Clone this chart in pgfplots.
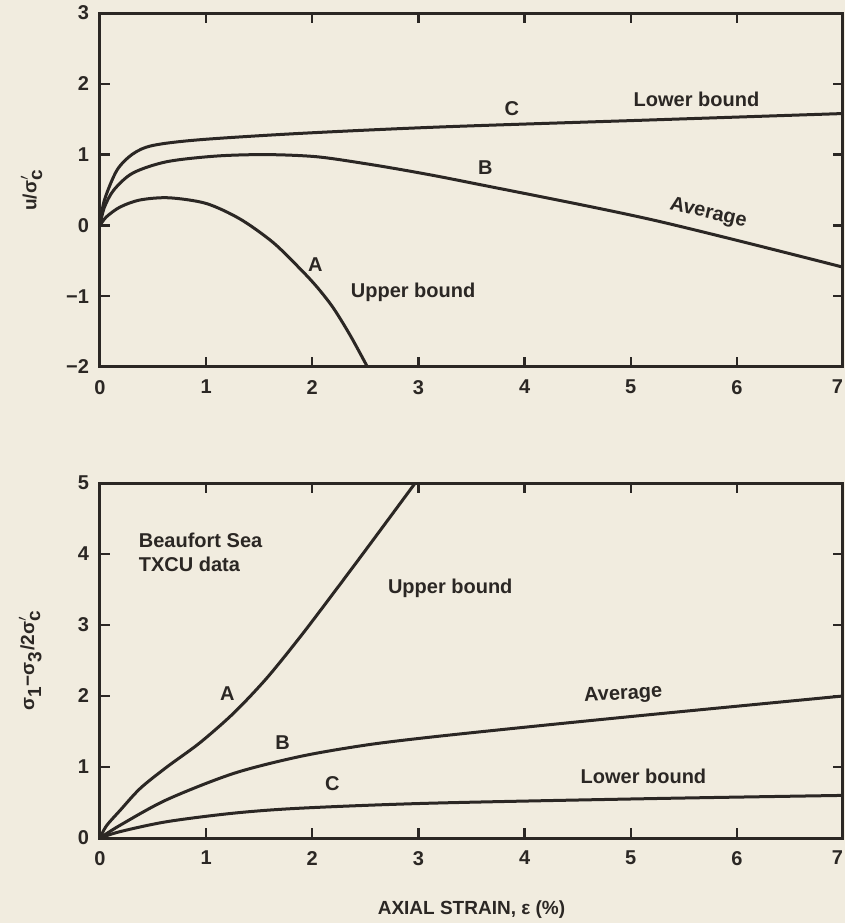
\documentclass[border=0pt]{standalone}
\usepackage{pgfplots}
\pgfplotsset{compat=1.18}
\usepackage{fontspec}
\setmainfont{Liberation Sans}
\definecolor{bg}{HTML}{F1ECDF}
\definecolor{ink}{HTML}{2B2724}
\pgfplotsset{
  curve/.style={draw=ink, line width=1.5pt, smooth, tension=0.5, mark=none},
  mystyle/.style={
    scale only axis, width=371.5pt,
    xmin=0, xmax=7, xtick={0,1,2,3,4,5,6,7},
    xticklabels={0,1,2,3,4,5,6,\makebox[0pt][r]{7}},
    tick align=inside, tickwidth=5pt,
    xtick pos=both, ytick pos=both,
    axis line style={line width=1.5pt, draw=ink},
    tick style={line width=1.2pt, draw=ink},
    /pgf/number format/assume math mode=true,
    tick label style={font=\fontsize{10}{12}\selectfont\bfseries, text=ink},
    yticklabel style={xshift=-2pt},
    xticklabel style={yshift=-3pt},
    label style={font=\fontsize{9.5}{11}\selectfont\bfseries, text=ink},
    clip=true,
  }
}
\newcommand{\lab}{\fontsize{10}{12}\selectfont\bfseries}
\begin{document}
\begin{tikzpicture}
\fill[bg] (0,0) rectangle (422.5pt,461.5pt);
\path[use as bounding box] (0,0) rectangle (422.5pt,461.5pt);

% ---------- top axis ----------
\begin{axis}[mystyle, at={(50pt,278pt)}, anchor=south west, height=177pt,
  ymin=-2, ymax=3, ytick={-2,-1,0,1,2,3}, yticklabels={−2,−1,0,1,2,3},
  ylabel={u/σ$^{\prime}_{\mbox{\bfseries c}}$},
  ylabel style={at={(axis description cs:-0.092,0.5)}, anchor=center}]
% C: lower bound
\addplot[curve] coordinates {(0,0) (0.04,0.35) (0.16,0.78) (0.31,1.01) (0.5,1.13) (0.94,1.21) (1.89,1.30) (3.2,1.39) (5.2,1.49) (7,1.58)};
% B: average
\addplot[curve] coordinates {(0,0) (0.04,0.25) (0.13,0.50) (0.31,0.74) (0.63,0.90) (1.1,0.98) (1.57,1.00) (2.04,0.97) (2.51,0.87) (2.98,0.75) (3.5,0.60) (5.2,0.08) (7,-0.59)};
% A: upper bound
\addplot[curve] coordinates {(0,0) (0.06,0.12) (0.19,0.26) (0.38,0.36) (0.65,0.39) (1.0,0.31) (1.32,0.09) (1.63,-0.24) (1.89,-0.62) (2.05,-0.88) (2.2,-1.17) (2.36,-1.56) (2.52,-2.0)};
\node[text=ink, font=\lab] at (axis cs:3.88,1.65) {C};
\node[text=ink, font=\lab] at (axis cs:5.62,1.78) {Lower bound};
\node[text=ink, font=\lab] at (axis cs:3.63,0.82) {B};
\node[text=ink, font=\lab, rotate=-13] at (axis cs:5.73,0.17) {Average};
\node[text=ink, font=\lab] at (axis cs:2.03,-0.55) {A};
\node[text=ink, font=\lab] at (axis cs:2.95,-0.95) {Upper bound};
\end{axis}

% ---------- bottom axis ----------
\begin{axis}[mystyle, at={(50pt,42.5pt)}, anchor=south west, height=177.5pt,
  ymin=0, ymax=5, ytick={0,1,2,3,4,5},
  ylabel={σ$_{\mbox{\bfseries 1}}$−σ$_{\mbox{\bfseries 3}}$/2σ$^{\prime}_{\mbox{\bfseries c}}$},
  ylabel style={at={(axis description cs:-0.094,0.5)}, anchor=center},
  xlabel={AXIAL STRAIN, ε (\%)},
  xlabel style={at={(axis description cs:0.5,0)}, yshift=-36pt, anchor=center}]
% A: upper bound
\addplot[curve] coordinates {(0,0) (0.06,0.17) (0.19,0.39) (0.38,0.70) (0.63,1.0) (0.94,1.34) (1.26,1.76) (1.57,2.25) (1.89,2.84) (2.2,3.45) (2.51,4.07) (2.97,5.0)};
% B: average
\addplot[curve] coordinates {(0,0) (0.19,0.18) (0.63,0.54) (1.26,0.91) (1.89,1.15) (2.51,1.31) (3.11,1.42) (4.0,1.56) (5.2,1.74) (7,2.0)};
% C: lower bound
\addplot[curve] coordinates {(0,0) (0.19,0.09) (0.63,0.23) (1.26,0.35) (1.89,0.42) (3.11,0.49) (5.2,0.555) (7,0.6)};
\node[text=ink, font=\lab, align=left, anchor=west] at (axis cs:0.3,4.03) {Beaufort Sea\\TXCU data};
\node[text=ink, font=\lab] at (axis cs:3.3,3.52) {Upper bound};
\node[text=ink, font=\lab] at (axis cs:1.2,2.04) {A};
\node[text=ink, font=\lab] at (axis cs:1.72,1.34) {B};
\node[text=ink, font=\lab] at (axis cs:2.19,0.77) {C};
\node[text=ink, font=\lab, rotate=3] at (axis cs:4.93,2.02) {Average};
\node[text=ink, font=\lab] at (axis cs:5.12,0.87) {Lower bound};
\end{axis}
\end{tikzpicture}
\end{document}
